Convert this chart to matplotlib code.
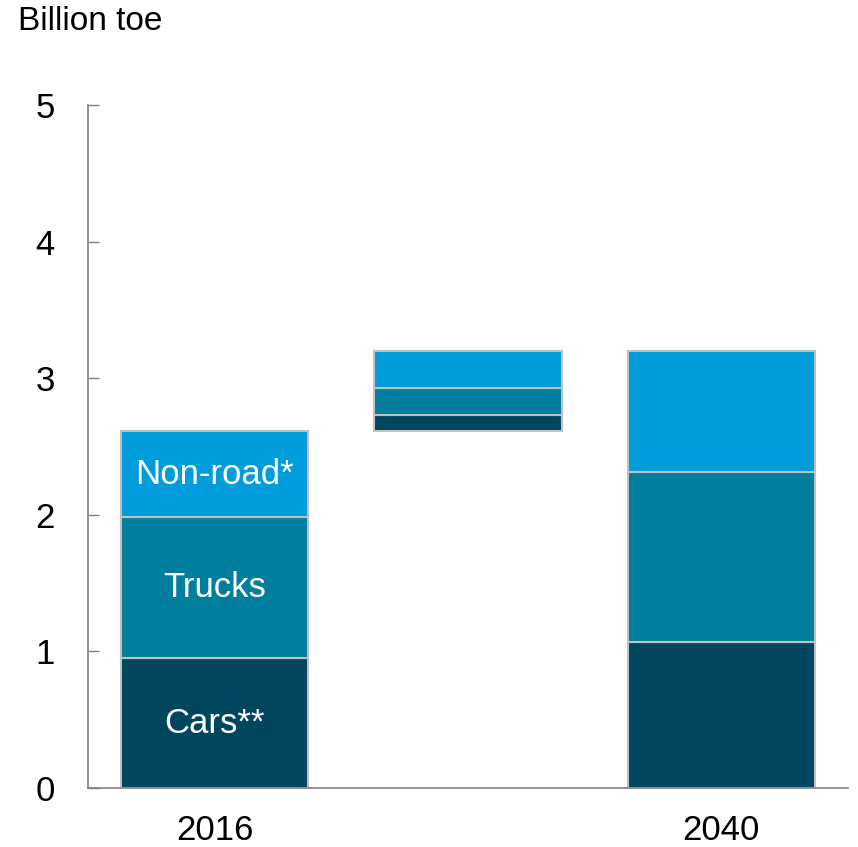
import numpy as np
import matplotlib.pyplot as plt

plt.rcParams['font.family'] = ['Liberation Sans', 'DejaVu Sans']

# energy demand by segment, billion toe
segments = ['Cars**', 'Trucks', 'Non-road*']
base_2016 = [0.95, 1.03, 0.63]
growth = [0.12, 0.20, 0.27]
base_2040 = [1.07, 1.24, 0.89]
colors = ['#00465f', '#007e9e', '#009cdb']
xlabels = ['2016', '', '2040']

fig = plt.figure(figsize=(8.58, 8.47), dpi=100)
ax = fig.add_axes([0.1026, 0.0697, 0.8858, 0.8064])

w = 0.74
edge = '#c0c0c0'

# 2016 stack
bottom = 0
for val, col, name in zip(base_2016, colors, segments):
    ax.bar(0, val, w, bottom=bottom, color=col, edgecolor=edge, linewidth=1.5)
    ax.text(0, bottom + val / 2, name, color='white', fontsize=25,
            ha='center', va='center')
    bottom += val

# change 2016 -> 2040, stacked on top of the 2016 total
for val, col in zip(growth, colors):
    ax.bar(1, val, w, bottom=bottom, color=col, edgecolor=edge, linewidth=1.5)
    bottom += val

# 2040 stack
bottom = 0
for val, col in zip(base_2040, colors):
    ax.bar(2, val, w, bottom=bottom, color=col, edgecolor=edge, linewidth=1.5)
    bottom += val

ax.set_xlim(-0.5, 2.5)
ax.set_ylim(0, 5)
ax.set_xticks([0, 1, 2])
ax.set_xticklabels(xlabels)
ax.set_yticks(range(6))
ax.tick_params(axis='x', length=0, pad=19, labelsize=25)
ax.tick_params(axis='y', direction='in', length=8, width=1, color='#808080',
               pad=24, labelsize=25)
for s in ['top', 'right']:
    ax.spines[s].set_visible(False)
for s in ['left', 'bottom']:
    ax.spines[s].set_color('#808080')
    ax.spines[s].set_linewidth(1.2)

fig.text(18 / 858, 1 - 22 / 847, 'Billion toe', fontsize=24, ha='left', va='center')

fig.savefig('out.png', dpi=100)
